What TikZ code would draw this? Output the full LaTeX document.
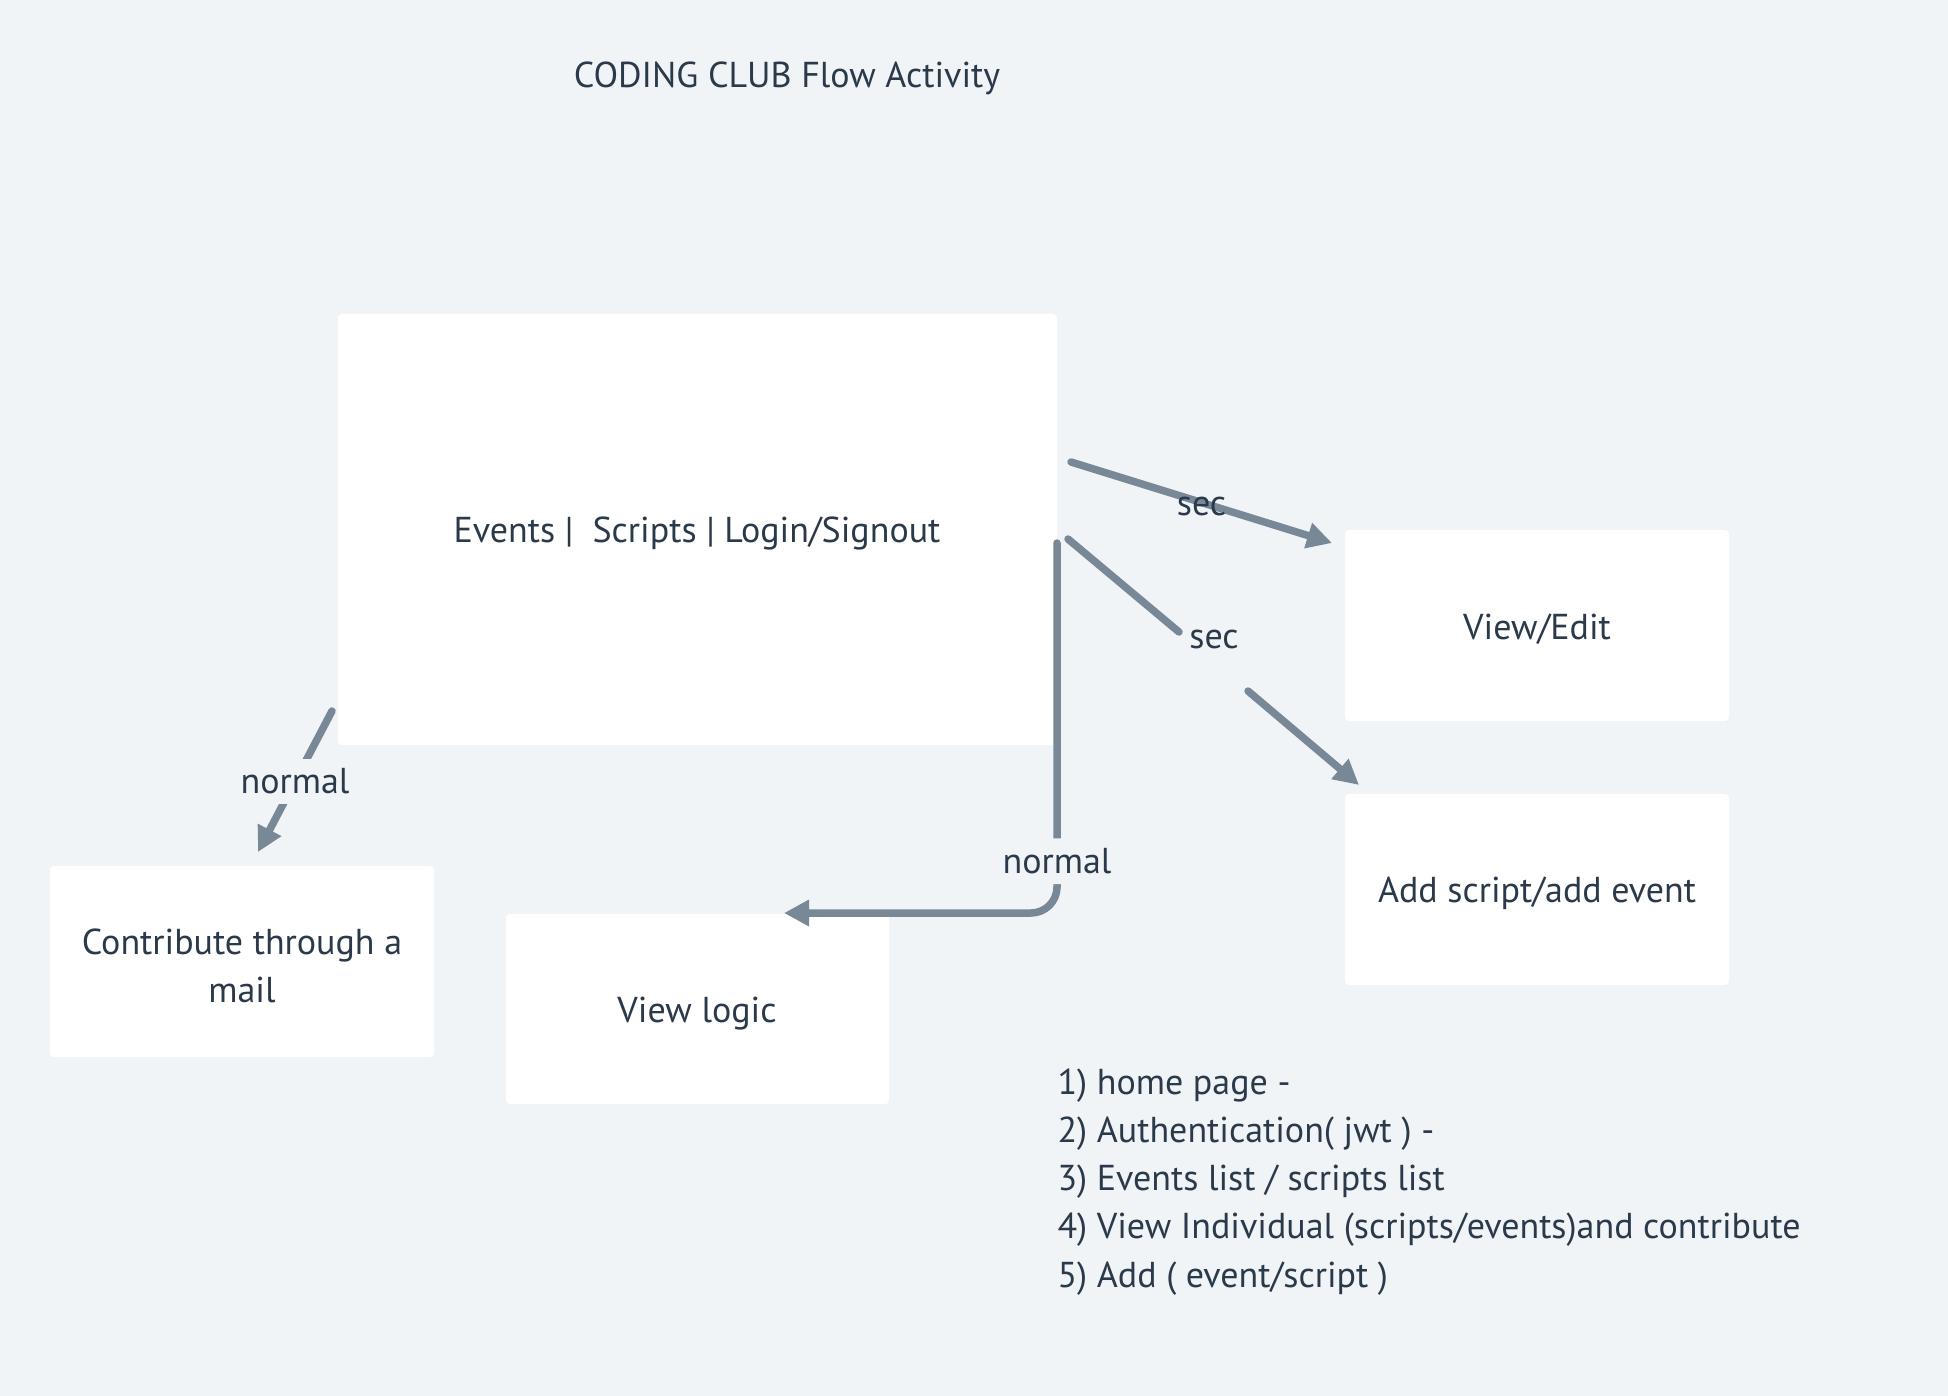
\documentclass[tikz,border=0pt]{standalone}
\usepackage{fontspec}
\setmainfont{PT Sans}
\usetikzlibrary{arrows.meta}
\definecolor{bgcol}{HTML}{F0F4F7}
\definecolor{linecol}{HTML}{788897}
\definecolor{txtcol}{HTML}{2B3A4A}
\tikzset{
  txt/.style={text=txtcol, font=\fontsize{36}{48}\selectfont},
  boxtxt/.style={txt, yshift=-3.5pt},
  card/.style={fill=white, rounded corners=4pt, draw=none},
  flow/.style={draw=linecol, line width=7.5pt, line cap=round},
  flowarr/.style={flow, -{Triangle[length=25pt,width=25pt]}},
  gaplabel/.style={txt, fill=bgcol, inner xsep=2pt, inner ysep=10pt}
}
\begin{document}
\begin{tikzpicture}[x=1pt,y=-1pt]
  \fill[bgcol] (0,0) rectangle (1948,1396);
  \useasboundingbox (0,0) rectangle (1948,1396);
  % title
  \node[boxtxt] (title) at (787,75) {CODING CLUB Flow Activity};
  % boxes
  \fill[card] (338,314) rectangle (1057,745);
  \node[boxtxt] (menu) at (697,530) {Events |\ \ Scripts | Login/Signout};
  \fill[card] (1345,530) rectangle (1729,721);
  \node[boxtxt] (viewedit) at (1537,626) {View/Edit};
  \fill[card] (1345,794) rectangle (1729,985);
  \node[boxtxt] (addscript) at (1537,890) {Add script/add event};
  \fill[card] (50,866) rectangle (434,1057);
  \node[boxtxt, align=center] (contrib) at (242,962) {Contribute through a\\mail};
  \fill[card] (506,914) rectangle (889,1104);
  \node[boxtxt] (viewlogic) at (697,1010) {View logic};
  % connector ends
  \coordinate (s1a) at (1071,462);
  \coordinate (s1b) at (1332,543);
  \coordinate (s2a) at (1068,539);
  \coordinate (s2m) at (1179,632);
  \coordinate (s2n) at (1248,691);
  \coordinate (s2b) at (1359,785);
  \coordinate (n1a) at (1057,543);
  \coordinate (n1c) at (1057,913);
  \coordinate (n1b) at (784,913);
  \coordinate (n2a) at (332,711);
  \coordinate (n2b) at (258,852);
  % connectors
  \draw[flowarr] (s1a) -- node[boxtxt] (lsec1) {sec} (s1b);
  \draw[flow] (s2a) -- (s2m);
  \node[txt] (lsec2) at (1214,639) {sec};
  \draw[flowarr] (s2n) -- (s2b);
  \draw[flowarr, rounded corners=26pt] (n1a) -- node[gaplabel, pos=.86] (lnorm1) {normal} (n1c) -- (n1b);
  \draw[flowarr] (n2a) -- node[gaplabel] (lnorm2) {normal} (n2b);
  % steps
  \node[boxtxt, anchor=west] (st1) at (1054,1082) {1) home page -};
  \node[boxtxt, anchor=west] (st2) at (1054,1130) {2) Authentication( jwt ) -};
  \node[boxtxt, anchor=west] (st3) at (1054,1178) {3) Events list / scripts list};
  \node[boxtxt, anchor=west] (st4) at (1054,1226) {4) View Individual (scripts/events)and contribute};
  \node[boxtxt, anchor=west] (st5) at (1054,1275) {5) Add ( event/script )};
\end{tikzpicture}
\end{document}
